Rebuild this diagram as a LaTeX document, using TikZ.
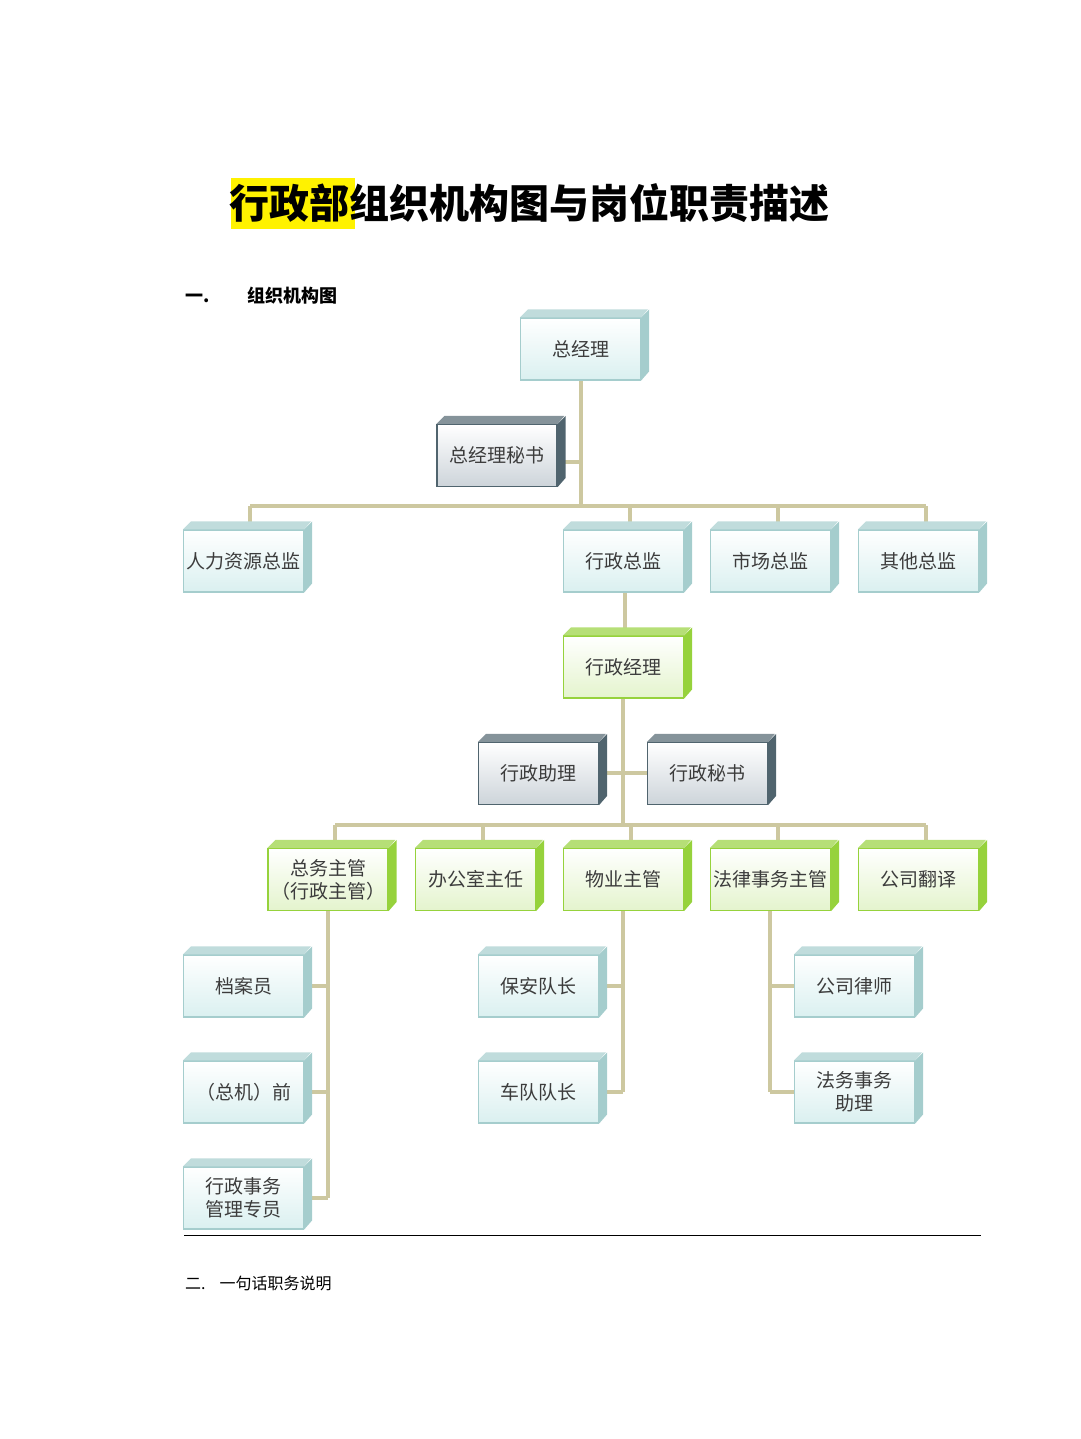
\documentclass[tikz,border=0pt]{standalone}
\usepackage{fontspec}
\setmainfont{Noto Sans CJK SC}
\usepackage{tikz}
\usetikzlibrary{positioning,calc}
\definecolor{mylink}{RGB}{205,200,160}
\definecolor{bluedraw}{RGB}{165,205,205}
\definecolor{bluefill}{RGB}{218,240,240}
\definecolor{darkdraw}{RGB}{80,100,110}
\definecolor{darkfill}{RGB}{205,212,218}
\definecolor{greendraw}{RGB}{150,210,60}
\definecolor{greenfill}{RGB}{228,244,205}
\definecolor{mytext}{RGB}{60,60,60}
% a box with its top and right faces
\newcommand{\orgbox}[4]{%
  \node[box,draw=#3draw,top color=white,bottom color=#3fill] (#1) at (#2) {#4};
  \fill[#3draw!70] (#1.north west) -- ++(8,-8) -- ++(120,0) -- (#1.north east) -- cycle;
  \fill[#3draw] (#1.north east) -- ++(8,-8) -- ++(0,62) -- (#1.south east) -- cycle;
}
\begin{document}
\begin{tikzpicture}[x=1pt,y=-1pt,
  box/.style={rectangle,minimum width=120pt,minimum height=62pt,inner sep=0pt,
    text width=114pt,align=center,font=\fontsize{19}{23}\selectfont,text=mytext,line width=1.2pt},
  link/.style={draw=mylink,line width=3.5pt}
  ]
  \useasboundingbox (0,0) rectangle (1080,1439);
  % title
  \fill[yellow] (231,178) rectangle (355,229);
  \node[anchor=west,inner sep=0pt,font=\fontsize{40}{44}\selectfont\bfseries] (title) at (229,203) {行政部组织机构图与岗位职责描述};
  \node[anchor=west,inner sep=0pt,font=\fontsize{18}{20}\selectfont\bfseries] (sec1) at (185,296) {一.\hspace{38pt}组织机构图};

  % the connectors
  \coordinate (bar1l) at (250,506);
  \coordinate (bar1r) at (926,506);
  \coordinate (bar2l) at (335,825);
  \coordinate (bar2r) at (926,825);
  \draw[link] (581,380) -- (581,506);
  \draw[link] (bar1l) -- (bar1r);
  \foreach \x in {250,630,778,926} \draw[link] (\x,506) -- (\x,528);
  \draw[link] (565,462) -- (581,462);
  \draw[link] (625,592) -- (625,636);
  \draw[link] (623,698) -- (623,825);
  \draw[link] (606,773) -- (648,773);
  \draw[link] (bar2l) -- (bar2r);
  \foreach \x in {335,483,631,778,926} \draw[link] (\x,825) -- (\x,846);
  \draw[link] (328,911) -- (328,1198);
  \foreach \y in {986,1092,1198} \draw[link] (311,\y) -- (328,\y);
  \draw[link] (623,911) -- (623,1092);
  \foreach \y in {986,1092} \draw[link] (606,\y) -- (623,\y);
  \draw[link] (770,911) -- (770,1092);
  \foreach \y in {986,1092} \draw[link] (770,\y) -- (795,\y);

  % the boxes
  \orgbox{gm}{580.5,349}{blue}{总经理}
  \orgbox{gmsec}{497,455.5}{dark}{总经理秘书}
  \foreach \n/\x/\t in {hr/243.5/人力资源总监,ad/623.5/行政总监,mk/770.5/市场总监,ot/918.5/其他总监}
    {\orgbox{\n}{\x,561}{blue}{\t}}
  \orgbox{am}{623.5,667}{green}{行政经理}
  \orgbox{aa}{538.5,773.5}{dark}{行政助理}
  \orgbox{as}{707.5,773.5}{dark}{行政秘书}
  \foreach \n/\x/\t in {gs/328/{总务主管\\（行政主管）},om/475.5/办公室主任,pm/623.5/物业主管,lm/770.5/法律事务主管,tr/918.5/公司翻译}
    {\orgbox{\n}{\x,879.5}{green}{\t}}
  \orgbox{ar}{243.5,986}{blue}{档案员}
  \orgbox{op}{243.5,1092}{blue}{（总机）前}
  \orgbox{sp}{243.5,1198}{blue}{行政事务\\管理专员}
  \orgbox{sc}{538.5,986}{blue}{保安队长}
  \orgbox{fc}{538.5,1092}{blue}{车队队长}
  \orgbox{lw}{854.5,986}{blue}{公司律师}
  \orgbox{la}{854.5,1092}{blue}{法务事务\\助理}

  % rule and next section
  \draw[line width=0.8pt] (184,1235) -- (981,1235);
  \node[anchor=west,inner sep=0pt,font=\fontsize{16}{18}\selectfont] (sec2) at (185,1283) {二.\hspace{14pt}一句话职务说明};
\end{tikzpicture}
\end{document}
